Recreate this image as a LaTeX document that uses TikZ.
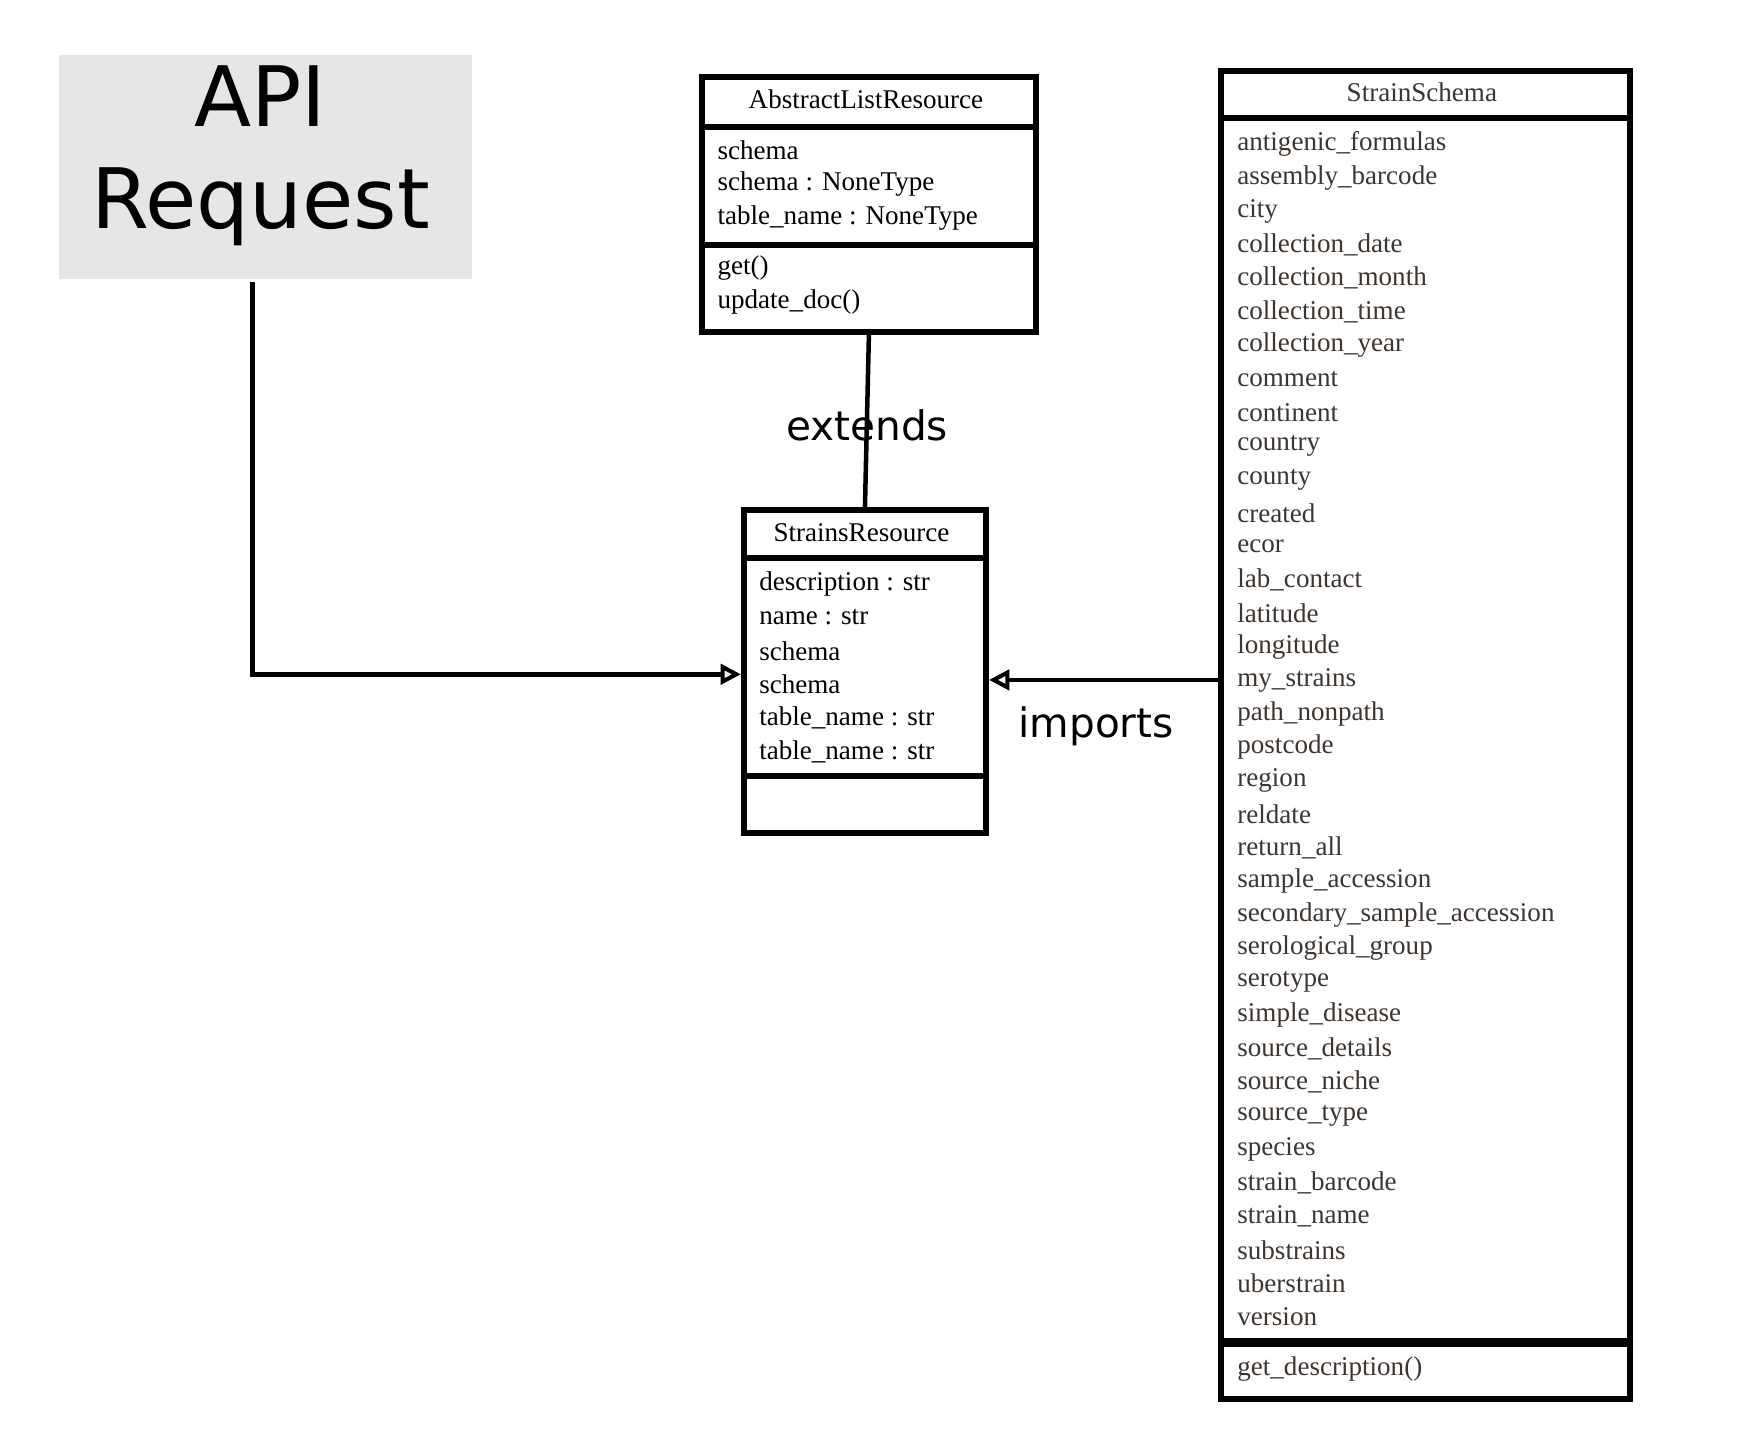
\documentclass[tikz,border=0pt]{standalone}
\usepackage{fontspec}
\setmainfont{Liberation Serif}
\newfontfamily\dv{DejaVu Sans}
\usetikzlibrary{arrows.meta}
\begin{document}
\begin{tikzpicture}[x=0.5pt,y=-0.5pt,
  box/.style={draw,line width=2.6pt,inner sep=0pt,anchor=north west},
  rule/.style={line width=2.6pt},
  txt/.style={anchor=west,inner sep=0pt,font=\fontsize{12}{14}\selectfont},
  gtxt/.style={txt,text=schcol},
  conn/.style={line width=2pt},
  tip/.style={-{Triangle[open,length=9pt,width=9pt,line width=1.8pt]}},
  lbl/.style={font=\dv\fontsize{18}{20}\selectfont,inner sep=0pt}]
\definecolor{schcol}{HTML}{3D3530}
\useasboundingbox (0,0) rectangle (1560,1273);
\fill[white] (0,0) rectangle (1560,1273);
% API Request
\node[fill={rgb,255:red,230;green,230;blue,230},minimum width=183pt,minimum height=99.5pt,anchor=north west,inner sep=0pt] (api) at (52,48) {};
\node[font=\dv\fontsize{37}{45}\selectfont,align=center,inner sep=0pt] (apit) at (231,138) {API\\Request};
% AbstractListResource
\node[box,minimum width=148pt,minimum height=113pt] (als) at (620,66) {};
\draw[rule] (620,113) -- (916,113);
\draw[rule] (620,217) -- (916,217);
\node[anchor=center,inner sep=0pt,font=\fontsize{12}{14}\selectfont] (alst) at (768,88) {AbstractListResource};
\foreach \t [count=\i from 0] in {schema,schema : NoneType,table\_name : NoneType}
  \node[txt] (alsa\i) at (636,133+30*\i) {\t};
\node[txt] (alsm0) at (636,238) {get()};
\node[txt] (alsm1) at (636,268) {update\_doc()};
% StrainsResource
\node[box,minimum width=107.5pt,minimum height=143pt] (sr) at (657,450) {};
\draw[rule] (657,495) -- (872,495);
\draw[rule] (657,688) -- (872,688);
\node[anchor=center,inner sep=0pt,font=\fontsize{12}{14}\selectfont] (srt) at (764,472) {StrainsResource};
\foreach \t [count=\i from 0] in {description : str,name : str,schema,schema,table\_name : str,table\_name : str}
  \node[txt] (sra\i) at (673,518+29.7*\i) {\t};
% StrainSchema
\node[box,minimum width=181.5pt,minimum height=589pt] (ss) at (1080,60) {};
\draw[rule] (1080,105) -- (1443,105);
\draw[line width=4pt] (1080,1191) -- (1443,1191);
\node[anchor=center,inner sep=0pt,font=\fontsize{12}{14}\selectfont,text=schcol] (sst) at (1261,82) {StrainSchema};
\foreach \t [count=\i from 0] in {antigenic\_formulas,assembly\_barcode,city,collection\_date,collection\_month,collection\_time,collection\_year,comment,continent,country,county,created,ecor,lab\_contact,latitude,longitude,my\_strains,path\_nonpath,postcode,region,reldate,return\_all,sample\_accession,secondary\_sample\_accession,serological\_group,serotype,simple\_disease,source\_details,source\_niche,source\_type,species,strain\_barcode,strain\_name,substrains,uberstrain,version}
  \node[gtxt] (ssa\i) at (1097,128+29.71*\i) {\t};
\node[gtxt] (ssm) at (1097,1214) {get\_description()};
% connectors
\coordinate (apibot) at (224,250);
\draw[conn,tip] (apibot) |- (sr.west |- 0,598);
\draw[conn] (als.south) -- (sr.north);
\node[lbl] (ext) at (769,377) {extends};
\draw[conn,tip] (ss.west |- 0,603) -- (sr.east |- 0,603);
\node[lbl] (imp) at (972,644) {imports};
\end{tikzpicture}
\end{document}
